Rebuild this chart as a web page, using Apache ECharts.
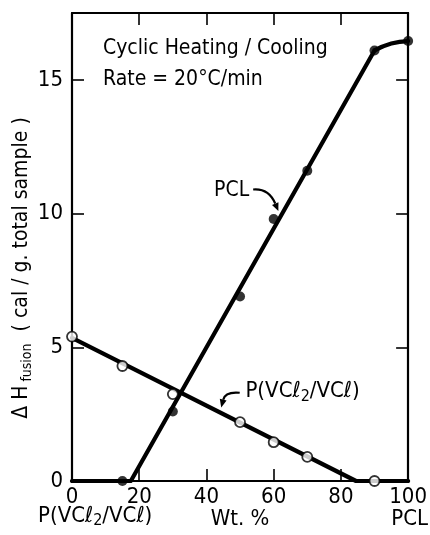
<!DOCTYPE html>
<html><head><meta charset="utf-8">
<script src="https://cdn.jsdelivr.net/npm/echarts@6/dist/echarts.min.js"></script>
<style>html,body{margin:0;padding:0;background:#fff}#c{width:430px;height:535px}</style>
</head><body><div id="c"></div>
<script>
const FONT = "'Liberation Sans Narrow','DejaVu Sans Condensed','Liberation Sans',sans-serif";

// Measured heats of fusion vs. blend composition (wt.% PCL)
const pclWt   = [15, 30, 50, 60, 70, 90, 100];
const pclHeat = [0, 2.6, 6.9, 9.8, 11.6, 16.1, 16.45];
const pvcWt   = [0, 15, 30, 50, 60, 70, 90];
const pvcHeat = [5.4, 4.3, 3.25, 2.2, 1.45, 0.9, 0];

// Hand-drawn trend lines through the points
const pclFitWt   = [0, 17.5, 90];
const pclFitHeat = [0, 0, 16.1];
const pclCapWt   = [90, 95, 100];
const pclCapHeat = [16.1, 16.36, 16.45];
const pvcFitWt   = [0, 84.5, 100];
const pvcFitHeat = [5.35, 0, 0];

const zip = (xs, ys) => xs.map((x, i) => [x, ys[i]]);

const chart = echarts.init(document.getElementById('c'), null, {renderer: 'canvas'});

const axisLine = {show: true, onZero: false, lineStyle: {color: '#000', width: 2.2}};
const tick = {show: true, inside: true, length: 12, lineStyle: {color: '#000', width: 1.6}};
const labelFont = {color: '#000', fontFamily: FONT, fontSize: 22};
const trend = {color: '#000', width: 4.2, cap: 'round', join: 'round'};

chart.setOption({
  animation: false,
  backgroundColor: '#fff',
  grid: {left: 72, right: 19, top: 13, bottom: 54, containLabel: false},
  xAxis: [
    {type: 'value', min: 0, max: 100, interval: 20, position: 'bottom',
     axisLine, axisTick: tick, splitLine: {show: false},
     axisLabel: Object.assign({margin: 5}, labelFont)},
    {type: 'value', min: 0, max: 100, interval: 20, position: 'top',
     axisLine, axisTick: tick, splitLine: {show: false}, axisLabel: {show: false}}
  ],
  yAxis: [
    {type: 'value', min: 0, max: 17.5, interval: 5, position: 'left',
     axisLine, axisTick: tick, splitLine: {show: false},
     axisLabel: Object.assign({margin: 9, showMaxLabel: false}, labelFont)},
    {type: 'value', min: 0, max: 17.5, interval: 5, position: 'right',
     axisLine, axisTick: tick, splitLine: {show: false}, axisLabel: {show: false}}
  ],
  series: [
    {type: 'line', data: zip(pvcFitWt, pvcFitHeat), symbol: 'none', lineStyle: trend, z: 3},
    {type: 'line', data: zip(pclFitWt, pclFitHeat), symbol: 'none', lineStyle: trend, z: 3},
    {type: 'line', data: zip(pclCapWt, pclCapHeat), symbol: 'none', smooth: true, lineStyle: trend, z: 3},
    {type: 'scatter', data: zip(pclWt, pclHeat), symbol: 'circle', symbolSize: 10,
     itemStyle: {color: '#000'}, z: 5},
    {type: 'scatter', data: zip(pvcWt, pvcHeat), symbol: 'circle', symbolSize: 10,
     itemStyle: {color: '#fff', borderColor: '#000', borderWidth: 1.8}, z: 5}
  ]
});

// Annotation text and leader arrows, anchored in data coordinates
const px = p => chart.convertToPixel({xAxisIndex: 0, yAxisIndex: 0}, p);

function leader(start, ctrl, tip) {
  const s = px(start), c = px(ctrl), t = px(tip);
  const ang = Math.atan2(t[1] - c[1], t[0] - c[0]);
  const L = 8, W = 3.5;
  const bx = t[0] - L * Math.cos(ang), by = t[1] - L * Math.sin(ang);
  const nx = -Math.sin(ang) * W, ny = Math.cos(ang) * W;
  return [
    {type: 'bezierCurve', shape: {x1: s[0], y1: s[1], x2: bx, y2: by, cpx1: c[0], cpy1: c[1]},
     style: {stroke: '#000', lineWidth: 2.2, fill: null}, z: 10},
    {type: 'polygon', shape: {points: [[t[0], t[1]], [bx + nx, by + ny], [bx - nx, by - ny]]},
     style: {fill: '#000'}, z: 10}
  ];
}

const pclText = px([47.5, 10.85]);
const pvcText = px([51.6, 3.35]);

const mainRich = {
  a: {fontFamily: FONT, fontSize: 22, lineHeight: 26, color: '#000'},
  s: {fontFamily: FONT, fontSize: 16, lineHeight: 12, verticalAlign: 'bottom', color: '#000'}
};

const graphics = [
  {type: 'text', left: 103, top: 38, z: 10,
   style: {text: 'Cyclic Heating / Cooling', font: '21px ' + FONT, fill: '#000'}},
  {type: 'text', left: 103, top: 69, z: 10,
   style: {text: 'Rate = 20°C/min', font: '21px ' + FONT, fill: '#000'}},
  {type: 'text', x: pclText[0], y: pclText[1], z: 10,
   style: {text: 'PCL', font: '21px ' + FONT, fill: '#000', align: 'center', verticalAlign: 'middle'}},
  {type: 'text', x: pvcText[0], y: pvcText[1], z: 10,
   style: {text: '{a|P(VCℓ}{s|2}{a|/VCℓ)}', rich: mainRich, align: 'left', verticalAlign: 'middle'}},
  // y-axis title
  {type: 'text', x: 22, y: 268, rotation: Math.PI / 2, z: 10,
   style: {text: '{a|Δ H}{s| fusion}{a|  ( cal / g. total sample )}', align: 'center', verticalAlign: 'middle',
     rich: {
       a: {fontFamily: FONT, fontSize: 21, lineHeight: 24, color: '#000'},
       s: {fontFamily: FONT, fontSize: 14, lineHeight: 12, verticalAlign: 'bottom', color: '#000'}
     }}},
  // x-axis captions
  {type: 'text', left: 38, top: 505, z: 10,
   style: {text: '{a|P(VCℓ}{s|2}{a|/VCℓ)}', rich: mainRich}},
  {type: 'text', x: 240, y: 519, z: 10,
   style: {text: 'Wt. %', font: '22px ' + FONT, fill: '#000', align: 'center', verticalAlign: 'middle'}},
  {type: 'text', x: 428, y: 519, z: 10,
   style: {text: 'PCL', font: '22px ' + FONT, fill: '#000', align: 'right', verticalAlign: 'middle'}}
].concat(
  leader([53.9, 10.9], [58.5, 10.95], [61.4, 10.1]),
  leader([49.9, 3.3], [45.6, 3.35], [44.4, 2.75])
);

chart.setOption({graphic: graphics});
</script>
</body></html>
